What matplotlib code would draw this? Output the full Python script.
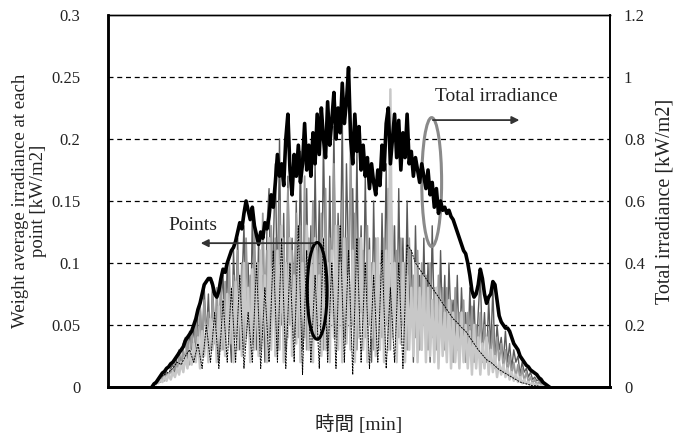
import matplotlib.pyplot as plt
from matplotlib.patches import Ellipse

# time axis [min], sampled every 4 min (sunrise to sunset)
t = list(range(84, 845, 4))
# coarser axis for the thin black point series
t8 = list(range(84, 845, 8))

# total irradiance [kW/m2] (right axis)
total = [0, 0.01, 0.015, 0.025, 0.035, 0.045, 0.05, 0.06, 0.065, 0.075,
         0.08, 0.09, 0.10, 0.11, 0.12, 0.13, 0.15, 0.16, 0.17, 0.18,
         0.20, 0.22, 0.25, 0.27, 0.30, 0.33, 0.34, 0.35, 0.35, 0.33,
         0.30, 0.29, 0.31, 0.35, 0.38, 0.37, 0.40, 0.42, 0.44, 0.45,
         0.47, 0.50, 0.53, 0.51, 0.56, 0.60, 0.57, 0.54, 0.58, 0.52,
         0.49, 0.46, 0.50, 0.48, 0.53, 0.51, 0.55, 0.62, 0.58, 0.66,
         0.75, 0.68, 0.72, 0.65, 0.80, 0.88, 0.70, 0.62, 0.75, 0.68,
         0.78, 0.66, 0.72, 0.85, 0.70, 0.78, 0.68, 0.82, 0.72, 0.88,
         0.75, 0.90, 0.80, 0.74, 0.92, 0.78, 0.86, 0.95, 0.80, 0.90,
         0.82, 0.98, 0.85, 0.92, 1.03, 0.80, 0.72, 0.88, 0.76, 0.84,
         0.70, 0.78, 0.68, 0.74, 0.64, 0.72, 0.66, 0.62, 0.70, 0.65,
         0.78, 0.70, 0.85, 0.90, 0.72, 0.80, 0.88, 0.74, 0.86, 0.70,
         0.82, 0.74, 0.88, 0.72, 0.76, 0.68, 0.74, 0.70, 0.66, 0.72,
         0.68, 0.64, 0.70, 0.62, 0.66, 0.58, 0.64, 0.56, 0.60, 0.57,
         0.58, 0.56, 0.57, 0.55, 0.54, 0.52, 0.50, 0.48, 0.46, 0.44,
         0.43, 0.40, 0.36, 0.31, 0.29, 0.30, 0.33, 0.38, 0.35, 0.30,
         0.27, 0.29, 0.30, 0.34, 0.33, 0.28, 0.23, 0.21, 0.20, 0.19,
         0.19, 0.18, 0.16, 0.14, 0.13, 0.12, 0.10, 0.09, 0.08, 0.07,
         0.065, 0.055, 0.05, 0.045, 0.04, 0.03, 0.025, 0.015, 0.01, 0.005,
         0]

# weight average irradiance at each point [kW/m2] (left axis)
point_a = [0, 0.002, 0.004, 0.005, 0.008, 0.006, 0.01, 0.012, 0.009, 0.015,
           0.018, 0.012, 0.025, 0.03, 0.015, 0.035, 0.04, 0.02, 0.045, 0.03,
           0.05, 0.025, 0.06, 0.07, 0.03, 0.08, 0.04, 0.075, 0.03, 0.085,
           0.04, 0.06, 0.02, 0.07, 0.09, 0.03, 0.1, 0.05, 0.02, 0.11,
           0.06, 0.12, 0.03, 0.08, 0.13, 0.04, 0.1, 0.02, 0.14, 0.06,
           0.03, 0.12, 0.05, 0.09, 0.02, 0.13, 0.16, 0.04, 0.11, 0.18,
           0.07, 0.2, 0.05, 0.14, 0.03, 0.17, 0.08, 0.12, 0.04, 0.15,
           0.06, 0.19, 0.03, 0.1, 0.16, 0.05, 0.13, 0.02, 0.18, 0.07,
           0.15, 0.04, 0.2, 0.09, 0.03, 0.17, 0.06, 0.21, 0.05, 0.14,
           0.08, 0.22, 0.04, 0.18, 0.1, 0.03, 0.16, 0.06, 0.19, 0.05,
           0.13, 0.04, 0.17, 0.07, 0.12, 0.02, 0.15, 0.05, 0.11, 0.03,
           0.14, 0.06, 0.18, 0.04, 0.2, 0.08, 0.13, 0.03, 0.16, 0.05,
           0.12, 0.04, 0.15, 0.06, 0.11, 0.02, 0.13, 0.05, 0.09, 0.03,
           0.12, 0.04, 0.1, 0.02, 0.13, 0.05, 0.08, 0.03, 0.11, 0.04,
           0.09, 0.02, 0.1, 0.05, 0.07, 0.03, 0.09, 0.02, 0.08, 0.04,
           0.06, 0.02, 0.08, 0.03, 0.07, 0.02, 0.06, 0.09, 0.03, 0.06,
           0.02, 0.07, 0.03, 0.08, 0.02, 0.05, 0.03, 0.04, 0.02, 0.045,
           0.02, 0.035, 0.015, 0.03, 0.02, 0.025, 0.01, 0.02, 0.012, 0.015,
           0.008, 0.012, 0.006, 0.008, 0.005, 0.006, 0.003, 0.004, 0.002, 0.001,
           0]
point_b = [0, 0.003, 0.002, 0.006, 0.004, 0.009, 0.005, 0.012, 0.008, 0.014,
           0.01, 0.02, 0.012, 0.025, 0.015, 0.03, 0.02, 0.04, 0.018, 0.045,
           0.02, 0.055, 0.03, 0.065, 0.025, 0.07, 0.04, 0.06, 0.03, 0.075,
           0.035, 0.08, 0.04, 0.09, 0.03, 0.085, 0.05, 0.1, 0.035, 0.09,
           0.04, 0.11, 0.05, 0.1, 0.03, 0.12, 0.06, 0.09, 0.035, 0.13,
           0.05, 0.1, 0.03, 0.14, 0.06, 0.11, 0.04, 0.13, 0.07, 0.12,
           0.03, 0.15, 0.06, 0.12, 0.04, 0.16, 0.05, 0.11, 0.08, 0.14,
           0.04, 0.13, 0.06, 0.17, 0.03, 0.12, 0.07, 0.15, 0.04, 0.11,
           0.06, 0.14, 0.03, 0.16, 0.05, 0.12, 0.08, 0.18, 0.04, 0.13,
           0.06, 0.15, 0.04, 0.12, 0.07, 0.2, 0.05, 0.14, 0.03, 0.12,
           0.06, 0.11, 0.04, 0.13, 0.05, 0.1, 0.03, 0.12, 0.06, 0.09,
           0.04, 0.12, 0.05, 0.16, 0.03, 0.13, 0.06, 0.11, 0.04, 0.12,
           0.05, 0.1, 0.03, 0.12, 0.06, 0.09, 0.04, 0.11, 0.03, 0.1,
           0.05, 0.09, 0.03, 0.1, 0.04, 0.08, 0.03, 0.09, 0.05, 0.08,
           0.03, 0.08, 0.04, 0.07, 0.02, 0.08, 0.03, 0.06, 0.04, 0.07,
           0.02, 0.06, 0.03, 0.065, 0.02, 0.05, 0.03, 0.06, 0.02, 0.05,
           0.03, 0.045, 0.02, 0.05, 0.015, 0.04, 0.02, 0.035, 0.015, 0.03,
           0.012, 0.025, 0.01, 0.02, 0.008, 0.018, 0.006, 0.015, 0.005, 0.012,
           0.004, 0.008, 0.003, 0.006, 0.002, 0.004, 0.002, 0.003, 0.001, 0.001,
           0]
point_c = [0, 0.002, 0.004, 0.003, 0.006, 0.004, 0.008, 0.005, 0.01, 0.006,
           0.012, 0.008, 0.015, 0.01, 0.02, 0.012, 0.025, 0.015, 0.03, 0.018,
           0.035, 0.02, 0.04, 0.015, 0.045, 0.025, 0.05, 0.02, 0.055, 0.03,
           0.06, 0.02, 0.065, 0.03, 0.07, 0.025, 0.075, 0.035, 0.08, 0.02,
           0.085, 0.03, 0.09, 0.025, 0.1, 0.04, 0.08, 0.02, 0.095, 0.03,
           0.1, 0.025, 0.11, 0.04, 0.09, 0.02, 0.12, 0.03, 0.1, 0.025,
           0.11, 0.03, 0.13, 0.02, 0.1, 0.04, 0.12, 0.025, 0.09, 0.035,
           0.12, 0.02, 0.1, 0.04, 0.13, 0.03, 0.11, 0.02, 0.12, 0.04,
           0.09, 0.025, 0.12, 0.03, 0.1, 0.02, 0.11, 0.04, 0.13, 0.03,
           0.1, 0.02, 0.12, 0.035, 0.09, 0.03, 0.11, 0.02, 0.1, 0.04,
           0.12, 0.03, 0.09, 0.02, 0.11, 0.04, 0.1, 0.025, 0.12, 0.03,
           0.1, 0.02, 0.11, 0.03, 0.24, 0.04, 0.1, 0.02, 0.09, 0.035,
           0.1, 0.02, 0.09, 0.03, 0.08, 0.025, 0.1, 0.02, 0.08, 0.03,
           0.09, 0.02, 0.08, 0.025, 0.07, 0.02, 0.08, 0.015, 0.07, 0.025,
           0.06, 0.02, 0.07, 0.015, 0.06, 0.02, 0.05, 0.015, 0.06, 0.02,
           0.05, 0.015, 0.045, 0.01, 0.05, 0.015, 0.04, 0.01, 0.035, 0.015,
           0.04, 0.01, 0.03, 0.012, 0.025, 0.008, 0.02, 0.01, 0.018, 0.008,
           0.015, 0.006, 0.012, 0.005, 0.01, 0.004, 0.008, 0.003, 0.006, 0.003,
           0.004, 0.002, 0.003, 0.002, 0.002, 0.001, 0.001, 0.001, 0.001, 0,
           0]
point_d = [0, 0.004, 0.008, 0.01, 0.012, 0.015, 0.02, 0.018, 0.025, 0.03, 0.02,
           0.035, 0.015, 0.05, 0.02, 0.06, 0.015, 0.07, 0.02, 0.08, 0.02,
           0.09, 0.015, 0.06, 0.02, 0.1, 0.015, 0.08, 0.02, 0.11, 0.02,
           0.12, 0.015, 0.1, 0.02, 0.13, 0.01, 0.11, 0.02, 0.09, 0.015,
           0.12, 0.02, 0.1, 0.015, 0.13, 0.02, 0.11, 0.01, 0.12, 0.02,
           0.1, 0.015, 0.09, 0.02, 0.11, 0.015, 0.08, 0.02, 0.1, 0.015,
           0.115, 0.11, 0.1, 0.095, 0.09, 0.085, 0.08, 0.075, 0.07, 0.065,
           0.06, 0.055, 0.052, 0.048, 0.045, 0.04, 0.035, 0.03, 0.026, 0.022,
           0.02, 0.017, 0.014, 0.012, 0.01, 0.008, 0.006, 0.004, 0.003, 0.002,
           0.001, 0.001, 0, 0, 0]

serif = ['Liberation Serif', 'Noto Sans CJK JP']
plt.rcParams['font.family'] = serif
txt = '#222222'

fig = plt.figure(figsize=(6.78, 4.36), dpi=100)
ax = fig.add_axes([0.1593, 0.1124, 0.7404, 0.8532])
ax2 = ax.twinx()

ax.plot(t, point_a, color='#5a5a5a', linewidth=1.0)
ax.plot(t, point_b, color='#9a9a9a', linewidth=1.3)
ax.plot(t, point_c, color='#c8c8c8', linewidth=1.8)
ax.plot(t8, point_d, color='black', linewidth=0.7, linestyle=(0, (2, 1)))
ax2.plot(t, total, color='black', linewidth=2.6)

ax.set_xlim(0, 960)
ax.set_ylim(0, 0.3)
ax2.set_ylim(0, 1.2)
ax.set_yticks([0, 0.05, 0.1, 0.15, 0.2, 0.25, 0.3])
ax.set_yticklabels(['0', '0.05', '0.1', '0.15', '0.2', '0.25', '0.3'])
ax2.set_yticks([0, 0.2, 0.4, 0.6, 0.8, 1.0, 1.2])
ax2.set_yticklabels(['0', '0.2', '0.4', '0.6', '0.8', '1', '1.2'])
ax.set_xticks([])
ax.tick_params(axis='y', length=0, pad=20, labelsize=12, labelcolor=txt)
ax2.tick_params(axis='y', length=0, pad=10, labelsize=12, labelcolor=txt)

for y in [0.05, 0.1, 0.15, 0.2, 0.25]:
    ax.axhline(y, color='black', linewidth=0.9, linestyle=(0, (4, 3)), zorder=0)

for a in (ax, ax2):
    a.spines['left'].set_linewidth(1.8)
    a.spines['bottom'].set_linewidth(2.0)
    a.spines['right'].set_linewidth(1.2)
    a.spines['top'].set_linewidth(1.0)

ax.set_ylabel('Weight average irradiance at each\npoint [kW/m2]', fontsize=13.5,
              color=txt, labelpad=3, linespacing=1.05)
ax2.set_ylabel('Total irradiance [kW/m2]', fontsize=14.5, color=txt, labelpad=8)
ax.set_xlabel('時間 [min]', fontsize=14, color=txt, labelpad=20)

# annotations (right-axis units)
ax2.text(163, 0.52, 'Points', fontsize=14, ha='center', va='center', color=txt)
ax2.annotate('', xy=(172, 0.464), xytext=(400, 0.464),
             arrowprops=dict(arrowstyle='-|>', color='#333333', lw=1.3, mutation_scale=11))
ax2.add_patch(Ellipse((400, 0.31), 38, 0.312, fill=False, edgecolor='black', linewidth=2.2))

ax2.text(742, 0.936, 'Total irradiance', fontsize=14, ha='center', va='center', color=txt)
ax2.annotate('', xy=(792, 0.861), xytext=(616, 0.861),
             arrowprops=dict(arrowstyle='-|>', color='#333333', lw=1.3, mutation_scale=11))
ax2.add_patch(Ellipse((619, 0.661), 38, 0.416, fill=False, edgecolor='#8a8a8a', linewidth=2.2))

fig.savefig('out.png', dpi=100)
